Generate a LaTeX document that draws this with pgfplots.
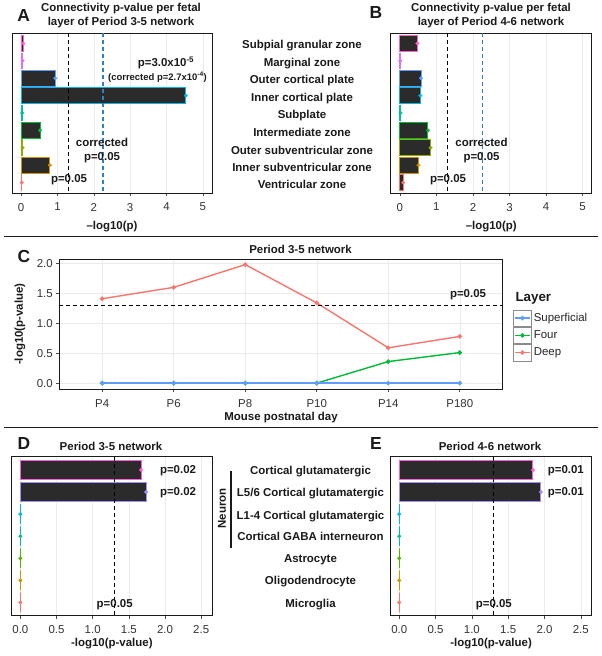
\documentclass[border=0pt]{standalone}
\usepackage{fontspec}
\setmainfont{Liberation Sans}
\usepackage{pgfplots}
\pgfplotsset{compat=1.18}

\definecolor{barfill}{HTML}{2B2B2B}
\definecolor{txt}{HTML}{1A1A1A}
\definecolor{corr}{HTML}{2F7FC1}
% fetal layers
\definecolor{fSGZ}{HTML}{FF61C3}
\definecolor{fMZ}{HTML}{DB72FB}
\definecolor{fOCP}{HTML}{619CFF}
\definecolor{fICP}{HTML}{00B9E3}
\definecolor{fSP}{HTML}{00C19F}
\definecolor{fIZ}{HTML}{00BA38}
\definecolor{fOSVZ}{HTML}{93AA00}
\definecolor{fISVZ}{HTML}{D39200}
\definecolor{fVZ}{HTML}{F8766D}
% cell types
\definecolor{cGlu}{HTML}{FB61D7}
\definecolor{cL56}{HTML}{A58AFF}
\definecolor{cL14}{HTML}{00B6EB}
\definecolor{cGABA}{HTML}{00C094}
\definecolor{cAst}{HTML}{53B400}
\definecolor{cOli}{HTML}{C49A00}
\definecolor{cMic}{HTML}{F8766D}
% mouse cortical layers
\definecolor{lSup}{HTML}{619CFF}
\definecolor{lFour}{HTML}{00BA38}
\definecolor{lDeep}{HTML}{F8766D}

\newcommand\tf{\fontsize{11.5}{14}\selectfont}
\newcommand\tfb{\fontsize{11.5}{14}\selectfont\bfseries}
\newcommand\sm{\fontsize{9.5}{11}\selectfont\bfseries}
\newcommand\pl{\fontsize{17.5}{18}\selectfont\bfseries}

\pgfplotsset{
  panel/.style={
    scale only axis, anchor=south west,
    axis line style={txt, line width=0.9bp},
    tick align=outside, major tick length=3bp,
    tick style={black!70, line width=0.6bp},
    xtick pos=bottom, ytick pos=left,
    ticklabel style={font=\tf, text=black!80},
    xticklabel style={yshift=-3.5bp},
    /pgf/number format/assume math mode=true,
    major grid style={black!8, line width=0.5bp},
    label style={font=\tfb, text=txt},
  },
  hpanel/.style={panel, y dir=reverse, ytick=\empty, xmajorgrids},
  hb/.style={xbar, bar width=0.9, bar shift=0pt, fill=barfill, draw=#1, line width=1bp,
    mark=*, mark size=1.9bp, mark options={fill=#1, draw=#1, line width=0.2bp}},
  cut/.style={black, line width=1.3bp, dash pattern=on 4bp off 3bp},
}

\begin{document}
\begin{tikzpicture}[x=1bp, y=-1bp]
\useasboundingbox (0,0) rectangle (602,656);

% ---------------- A ----------------
\begin{axis}[hpanel, at={(12bp,-193bp)}, width=200bp, height=160bp,
  xmin=-0.25, xmax=5.25, ymin=0.4, ymax=9.6, xtick={0,...,5},
  xlabel={–log10(p)}, xlabel style={at={(axis description cs:0.5,0)}, anchor=center, yshift=-34bp}]
\addplot[hb=fSGZ]  coordinates {(0.06,1)};
\addplot[hb=fMZ]   coordinates {(0.04,2)};
\addplot[hb=fOCP]  coordinates {(0.94,3)};
\addplot[hb=fICP]  coordinates {(4.53,4)};
\addplot[hb=fSP]   coordinates {(0.03,5)};
\addplot[hb=fIZ]   coordinates {(0.52,6)};
\addplot[hb=fOSVZ] coordinates {(0.04,7)};
\addplot[hb=fISVZ] coordinates {(0.79,8)};
\addplot[hb=fVZ]   coordinates {(0.02,9)};
\addplot[cut] coordinates {(1.301,0.4) (1.301,9.6)};
\addplot[cut, draw=corr] coordinates {(2.255,0.4) (2.255,9.6)};
\end{axis}

% ---------------- B ----------------
\begin{axis}[hpanel, at={(390.7bp,-193bp)}, width=201bp, height=160bp,
  xmin=-0.25, xmax=5.25, ymin=0.4, ymax=9.6, xtick={0,...,5},
  xlabel={–log10(p)}, xlabel style={at={(axis description cs:0.5,0)}, anchor=center, yshift=-34bp}]
\addplot[hb=fSGZ]  coordinates {(0.48,1)};
\addplot[hb=fMZ]   coordinates {(0.01,2)};
\addplot[hb=fOCP]  coordinates {(0.58,3)};
\addplot[hb=fICP]  coordinates {(0.56,4)};
\addplot[hb=fSP]   coordinates {(0.02,5)};
\addplot[hb=fIZ]   coordinates {(0.77,6)};
\addplot[hb=fOSVZ] coordinates {(0.84,7)};
\addplot[hb=fISVZ] coordinates {(0.51,8)};
\addplot[hb=fVZ]   coordinates {(0.09,9)};
\addplot[cut] coordinates {(1.301,0.4) (1.301,9.6)};
\addplot[cut, draw=corr] coordinates {(2.255,0.4) (2.255,9.6)};
\end{axis}

% ---------------- C ----------------
\begin{axis}[panel, at={(59.3bp,-389bp)}, width=443.4bp, height=129.7bp,
  xmin=-0.6, xmax=5.6, ymin=-0.0985, ymax=2.0685,
  xtick={0,...,5}, xticklabels={P4,P6,P8,P10,P14,P180},
  xticklabel style={yshift=-0.5bp},
  ytick={0,0.5,1,1.5,2},
  yticklabel style={/pgf/number format/.cd, fixed, fixed zerofill, precision=1},
  xmajorgrids, ymajorgrids,
  xlabel={Mouse postnatal day}, ylabel={-log10(p-value)},
  xlabel style={at={(axis description cs:0.5,0)}, anchor=center, yshift=-28.7bp},
  ylabel style={at={(axis description cs:0,0.5)}, anchor=center, rotate=0, yshift=39.3bp},
  legend style={at={(axis description cs:1.0232,0.6145)}, anchor=north west,
    draw=none, fill=none, inner sep=0pt, row sep=0pt, font=\tf, text=black!85},
  legend cell align=left,
  legend image code/.code={
    \draw[black!45, line width=0.6bp, fill=white] (0bp,-8.3bp) rectangle (18bp,8.3bp);
    \draw[#1, mark repeat=2, mark phase=2] plot coordinates {(1.5bp,0bp) (9bp,0bp) (16.5bp,0bp)};
  },
  every axis plot/.append style={line width=1.4bp, mark=*, mark size=1.5bp},
]
\addlegendimage{lSup, mark options={fill=lSup}}
\addlegendentry{Superficial}
\addlegendimage{lFour, mark options={fill=lFour}}
\addlegendentry{Four}
\addlegendimage{lDeep, mark options={fill=lDeep}}
\addlegendentry{Deep}
\addplot[lDeep, mark options={fill=lDeep}, forget plot] coordinates {(0,1.41) (1,1.60) (2,1.98) (3,1.34) (4,0.59) (5,0.78)};
\addplot[lFour, mark options={fill=lFour}, forget plot] coordinates {(0,0) (1,0) (2,0) (3,0) (4,0.36) (5,0.51)};
\addplot[lSup, mark options={fill=lSup}, forget plot] coordinates {(0,0) (1,0) (2,0) (3,0) (4,0) (5,0)};
\addplot[cut, mark=none, forget plot] coordinates {(-0.6,1.301) (5.6,1.301)};
\end{axis}

% ---------------- D ----------------
\begin{axis}[hpanel, at={(11.7bp,-615.7bp)}, width=200.3bp, height=159bp,
  xmin=-0.12, xmax=2.65, ymin=0.4, ymax=7.6, xtick={0,0.5,...,2.5},
  xticklabel style={/pgf/number format/.cd, fixed, fixed zerofill, precision=1},
  xlabel={-log10(p-value)}, xlabel style={at={(axis description cs:0.5,0)}, anchor=center, yshift=-28.3bp}]
\addplot[hb=cGlu]  coordinates {(1.67,1)};
\addplot[hb=cL56]  coordinates {(1.74,2)};
\addplot[hb=cL14]  coordinates {(0,3)};
\addplot[hb=cGABA] coordinates {(0,4)};
\addplot[hb=cAst]  coordinates {(0,5)};
\addplot[hb=cOli]  coordinates {(0,6)};
\addplot[hb=cMic]  coordinates {(0,7)};
\addplot[cut] coordinates {(1.301,0.4) (1.301,7.6)};
\end{axis}

% ---------------- E ----------------
\begin{axis}[hpanel, at={(390.5bp,-615.7bp)}, width=201.2bp, height=159bp,
  xmin=-0.12, xmax=2.65, ymin=0.4, ymax=7.6, xtick={0,0.5,...,2.5},
  xticklabel style={/pgf/number format/.cd, fixed, fixed zerofill, precision=1},
  xlabel={-log10(p-value)}, xlabel style={at={(axis description cs:0.5,0)}, anchor=center, yshift=-28.3bp}]
\addplot[hb=cGlu]  coordinates {(1.84,1)};
\addplot[hb=cL56]  coordinates {(1.95,2)};
\addplot[hb=cL14]  coordinates {(0,3)};
\addplot[hb=cGABA] coordinates {(0,4)};
\addplot[hb=cAst]  coordinates {(0,5)};
\addplot[hb=cOli]  coordinates {(0,6)};
\addplot[hb=cMic]  coordinates {(0,7)};
\addplot[cut] coordinates {(1.301,0.4) (1.301,7.6)};
\end{axis}

% separators
\draw[txt, line width=1bp] (4,236) -- (598,236);
\draw[txt, line width=1bp] (4,427.5) -- (598,427.5);

% panel letters and titles
\node[font=\pl, text=txt] at (23.7,15.5) {A};
\node[font=\pl, text=txt] at (376,13) {B};
\node[font=\pl, text=txt] at (24,256) {C};
\node[font=\pl, text=txt] at (24,443.5) {D};
\node[font=\pl, text=txt] at (376,443.5) {E};
\node[font=\tfb, text=txt, align=center] at (121,16) {Connectivity p-value per fetal\\layer of Period 3-5 network};
\node[font=\tfb, text=txt, align=center] at (491,16) {Connectivity p-value per fetal\\layer of Period 4-6 network};
\node[font=\tfb, text=txt] at (300.5,249) {Period 3-5 network};
\node[font=\tfb, text=txt] at (111,446.7) {Period 3-5 network};
\node[font=\tfb, text=txt] at (490,446.7) {Period 4-6 network};

% fetal layer names
\foreach \lab/\yy in {Subpial granular zone/49, Marginal zone/66.7, Outer cortical plate/84,
  Inner cortical plate/101.7, Subplate/119, Intermediate zone/136.3,
  Outer subventricular zone/154, Inner subventricular zone/171.3, Ventricular zone/188.3}
  \node[font=\tfb, text=txt, anchor=base] at (302,\yy) {\lab};

% cell type names
\foreach \lab/\yy in {{Cortical glutamatergic}/474.7, {L5/6 Cortical glutamatergic}/496.3,
  {L1-4 Cortical glutamatergic}/519, {Cortical GABA interneuron}/540.7,
  {Astrocyte}/562.7, {Oligodendrocyte}/584.7, {Microglia}/607.3}
  \node[font=\tfb, text=txt, anchor=base] at (310.5,\yy) {\lab};
\draw[txt, line width=1.2bp] (231,470.7) -- (231,548.3);
\node[font=\tfb, text=txt, rotate=90] at (222,508.5) {Neuron};

% annotations
\node[font=\tfb, text=txt] at (166,63) {p=3.0x10\textsuperscript{-5}};
\node[font=\sm, text=txt] at (157.5,77) {(corrected p=2.7x10\textsuperscript{-4})};
\node[font=\tfb, text=txt, align=center] at (102,150.5) {corrected\\p=0.05};
\node[font=\tfb, text=txt] at (69,180) {p=0.05};
\node[font=\tfb, text=txt, align=center] at (481.5,150.5) {corrected\\p=0.05};
\node[font=\tfb, text=txt] at (448,180) {p=0.05};
\node[font=\tfb, text=txt] at (468,295) {p=0.05};
\node[font=\fontsize{13.4}{14}\selectfont\bfseries, text=txt, anchor=west] at (512,298.3) {Layer};
\node[font=\tfb, text=txt] at (178,470.7) {p=0.02};
\node[font=\tfb, text=txt] at (178,492.3) {p=0.02};
\node[font=\tfb, text=txt] at (114.7,604.3) {p=0.05};
\node[font=\tfb, text=txt] at (565.8,470.7) {p=0.01};
\node[font=\tfb, text=txt] at (565.8,492.3) {p=0.01};
\node[font=\tfb, text=txt] at (493.8,604.3) {p=0.05};
\end{tikzpicture}
\end{document}
